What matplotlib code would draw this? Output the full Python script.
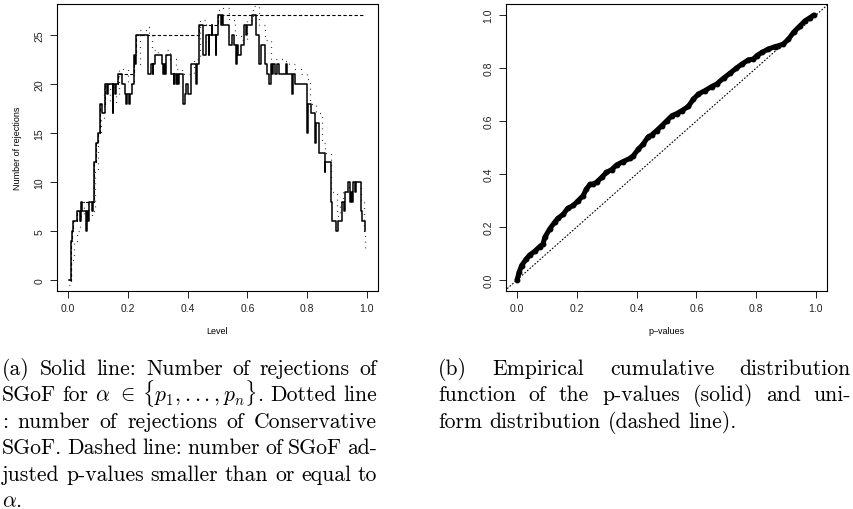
import matplotlib
matplotlib.use("Agg")
import matplotlib.pyplot as plt
import numpy as np

plt.rcParams['mathtext.fontset'] = 'cm'
plt.rcParams['font.family'] = ['Liberation Sans', 'DejaVu Sans']

# --- left panel: number of rejections vs level (step functions) ---
solid_level = [0.003, 0.010, 0.014, 0.017, 0.030, 0.040, 0.043, 0.047, 0.061, 0.063,
               0.067, 0.070, 0.080, 0.082, 0.087, 0.092, 0.100, 0.106, 0.112, 0.122,
               0.130, 0.132, 0.150, 0.152, 0.156, 0.162, 0.168, 0.180, 0.192, 0.194,
               0.197, 0.205, 0.207, 0.214, 0.220, 0.224, 0.228, 0.268, 0.278, 0.283,
               0.285, 0.292, 0.313, 0.318, 0.320, 0.325, 0.328, 0.345, 0.353, 0.356,
               0.360, 0.363, 0.368, 0.371, 0.386, 0.391, 0.395, 0.400, 0.410, 0.428,
               0.431, 0.439, 0.453, 0.460, 0.462, 0.470, 0.473, 0.480, 0.483, 0.494,
               0.496, 0.500, 0.512, 0.515, 0.518, 0.540, 0.548, 0.556, 0.563, 0.566,
               0.570, 0.578, 0.588, 0.596, 0.599, 0.615, 0.630, 0.640, 0.646, 0.660,
               0.667, 0.672, 0.678, 0.684, 0.686, 0.694, 0.700, 0.706, 0.728, 0.733,
               0.750, 0.752, 0.760, 0.800, 0.802, 0.812, 0.826, 0.829, 0.840, 0.858,
               0.861, 0.880, 0.883, 0.898, 0.902, 0.915, 0.922, 0.928, 0.935, 0.943,
               0.946, 0.949, 0.952, 0.960, 0.963, 0.980, 0.983, 0.992, 0.995]
solid_value = [0, 4, 5, 6, 7, 6, 8, 7, 5, 7,
               6, 8, 7, 8, 12, 14, 15, 18, 17, 20,
               19, 20, 17, 20, 19, 20, 21, 20, 19, 18,
               19, 18, 19, 20, 23, 22, 25, 21, 22, 21,
               22, 23, 22, 21, 22, 21, 23, 21, 20, 21,
               20, 21, 20, 21, 18, 19, 20, 19, 22, 20,
               22, 26, 23, 24, 25, 23, 25, 26, 25, 23,
               25, 27, 26, 27, 26, 24, 25, 24, 22, 24,
               23, 24, 26, 25, 26, 27, 25, 22, 24, 22,
               21, 20, 22, 21, 22, 21, 22, 21, 22, 21,
               19, 21, 20, 15, 18, 17, 14, 16, 13, 11,
               12, 8, 6, 5, 6, 8, 7, 9, 10, 8,
               9, 8, 10, 9, 10, 7, 6, 5, 5]

dotted_level = [0.004, 0.010, 0.020, 0.030, 0.040, 0.055, 0.068, 0.080, 0.090, 0.100,
                0.110, 0.120, 0.140, 0.160, 0.172, 0.200, 0.220, 0.240, 0.260, 0.270,
                0.280, 0.300, 0.330, 0.340, 0.360, 0.380, 0.400, 0.420, 0.440, 0.460,
                0.480, 0.500, 0.520, 0.540, 0.560, 0.580, 0.600, 0.620, 0.640, 0.660,
                0.680, 0.700, 0.720, 0.740, 0.760, 0.780, 0.800, 0.810, 0.830, 0.850,
                0.860, 0.880, 0.900, 0.910, 0.920, 0.940, 0.960, 0.980, 0.990, 0.995]
dotted_value = [-0.5, 2, 4, 5, 6.5, 8, 6.5, 7, 11, 15,
                16.5, 19.5, 18, 19, 21.5, 20, 22, 25.5, 25.8, 25,
                23.5, 23, 23.5, 22.5, 21.5, 21, 21, 22.5, 26.5, 26,
                26, 27.5, 27.8, 26.5, 25, 24.5, 26.5, 28, 26, 24.5,
                22.5, 22.5, 22.3, 22, 21.5, 21, 20.5, 18, 17, 14,
                13, 9, 6.5, 8, 9, 9.5, 10, 8, 5, 3]

dashed_level = [0.003, 0.010, 0.014, 0.017, 0.030, 0.043, 0.087, 0.092, 0.100, 0.106,
                0.122, 0.168, 0.220, 0.228, 0.439, 0.500, 0.995]
dashed_value = [0, 4, 5, 6, 7, 8, 12, 14, 15, 18,
                20, 21, 23, 25, 26, 27, 27]

# --- right panel: empirical cdf of the p-values ---
ecdf_x = [0.000, 0.007, 0.015, 0.031, 0.042, 0.059, 0.076, 0.087, 0.093, 0.109,
          0.126, 0.137, 0.154, 0.169, 0.188, 0.204, 0.221, 0.232, 0.244, 0.255,
          0.266, 0.283, 0.299, 0.316, 0.333, 0.355, 0.378, 0.389, 0.406, 0.422,
          0.439, 0.450, 0.467, 0.484, 0.501, 0.518, 0.534, 0.551, 0.573, 0.590,
          0.607, 0.629, 0.651, 0.668, 0.691, 0.713, 0.733, 0.752, 0.774, 0.791,
          0.802, 0.819, 0.841, 0.863, 0.874, 0.891, 0.908, 0.925, 0.947, 0.964,
          0.981, 0.992]
ecdf_y = [0.000, 0.029, 0.054, 0.079, 0.094, 0.108, 0.126, 0.136, 0.161, 0.192,
          0.218, 0.233, 0.247, 0.270, 0.281, 0.299, 0.318, 0.343, 0.361, 0.362,
          0.369, 0.387, 0.406, 0.416, 0.434, 0.447, 0.459, 0.469, 0.494, 0.513,
          0.541, 0.547, 0.564, 0.582, 0.601, 0.620, 0.628, 0.639, 0.655, 0.683,
          0.702, 0.715, 0.730, 0.740, 0.762, 0.781, 0.799, 0.815, 0.831, 0.834,
          0.847, 0.859, 0.872, 0.881, 0.884, 0.891, 0.909, 0.935, 0.960, 0.979,
          0.991, 1.000]

W, H = 854, 510
fig = plt.figure(figsize=(W / 100, H / 100), dpi=100)
ax1 = fig.add_axes([57 / W, 1 - 292 / H, 321 / W, 287 / H])
ax2 = fig.add_axes([506 / W, 1 - 292 / H, 321 / W, 287 / H])

ax1.plot(solid_level, solid_value, color='black', lw=1.1, drawstyle='steps-post')
ax1.plot(dotted_level, dotted_value, color='black', lw=0.9, ls=(0, (0.6, 4)),
         drawstyle='steps-post')
ax1.plot(dashed_level, dashed_value, color='black', lw=0.8, ls=(0, (3, 2)),
         drawstyle='steps-post')
ax1.set_xlim(-0.037, 1.037)
ax1.set_ylim(-1.12, 28.16)
ax1.set_xticks([0.0, 0.2, 0.4, 0.6, 0.8, 1.0])
ax1.set_yticks([0, 5, 10, 15, 20, 25])
ax1.set_xlabel('Level', fontsize=6.5, labelpad=9)
ax1.set_ylabel('Number of rejections', fontsize=6.5, labelpad=9)

ax2.plot([-0.1, 1.1], [-0.1, 1.1], color='black', lw=0.8, ls=(0, (1.5, 1.5)))
ax2.plot(ecdf_x, ecdf_y, color='black', lw=3.6, solid_capstyle='round',
         solid_joinstyle='round', marker='o', ms=3.2)
ax2.set_xlim(-0.037, 1.037)
ax2.set_ylim(-0.042, 1.042)
ax2.set_xticks([0.0, 0.2, 0.4, 0.6, 0.8, 1.0])
ax2.set_yticks([0.0, 0.2, 0.4, 0.6, 0.8, 1.0])
ax2.set_xticklabels(['0.0', '0.2', '0.4', '0.6', '0.8', '1.0'])
ax2.set_yticklabels(['0.0', '0.2', '0.4', '0.6', '0.8', '1.0'])
ax2.set_xlabel('p\u2013values', fontsize=6.5, labelpad=9)

for ax in (ax1, ax2):
    for s in ax.spines.values():
        s.set_linewidth(0.8)
    ax.tick_params(direction='out', length=5, width=0.7, labelsize=7.5,
                   colors='#222222', pad=4)
    for lab in ax.get_yticklabels():
        lab.set_rotation(90)
        lab.set_va('center')

# --- captions, justified like the LaTeX source ---
cap_a = ["(a) Solid line: Number of rejections of",
         r"SGoF for $\alpha$ $\in$ $\{p_1,...,p_n\}$. Dotted line",
         ": number of rejections of Conservative",
         "SGoF. Dashed line: number of SGoF ad-",
         "justed p-values smaller than or equal to",
         r"$\alpha$."]
cap_b = ["(b) Empirical cumulative distribution",
         "function of the p-values (solid) and uni-",
         "form distribution (dashed line)."]

renderer = fig.canvas.get_renderer()


def caption(lines, x0, x1, y0, step, size=15.6):
    for i, line in enumerate(lines):
        y = 1 - (y0 + i * step) / H
        words = line.split(' ')
        texts = [fig.text(0, y, w, family='cmr10', fontsize=size, va='baseline')
                 for w in words]
        widths = [t.get_window_extent(renderer).width for t in texts]
        last = i == len(lines) - 1
        if last or len(words) == 1:
            gap = size * 100 / 72 * 0.333
        else:
            gap = (x1 - x0 - sum(widths)) / (len(words) - 1)
        x = x0
        for t, w in zip(texts, widths):
            t.set_x(x / W)
            x += w + gap


caption(cap_a, 2, 377, 375, 26.4)
caption(cap_b, 438, 851, 375, 26.4)

fig.savefig('out.png', dpi=100)
